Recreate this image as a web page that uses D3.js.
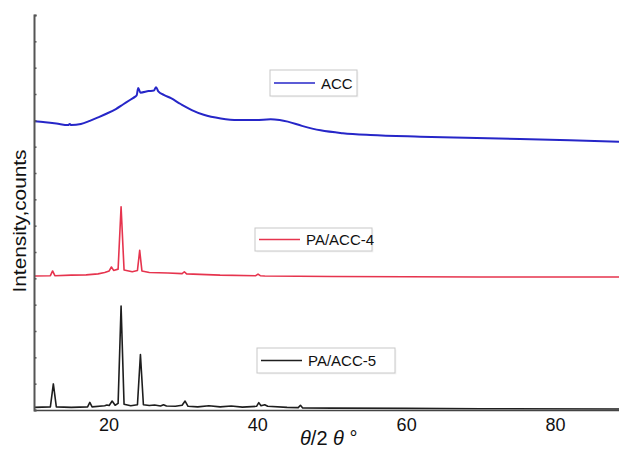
<!DOCTYPE html>
<html>
<head>
<meta charset="utf-8">
<script src="https://cdn.jsdelivr.net/npm/d3@7"></script>
<style>
  body { margin: 0; background: #fff; }
  svg { display: block; font-family: "Liberation Sans", Arial, sans-serif; }
</style>
</head>
<body>
<svg id="chart" width="619" height="454"></svg>
<script>
// 2theta positions and intensities (arbitrary counts)
const acc_theta = [10, 11.5, 13, 14.6, 14.8, 15.0, 16.3, 17.5, 18.6, 19.8, 21, 22, 23, 23.6, 23.8, 24.0, 24.3, 25.4, 26.1, 26.4, 26.7, 27.5, 28.4, 29.7, 31.2, 32.8, 35.1, 37.4, 39.8, 41.8, 43, 44.1, 46, 48.5, 51.5, 55.2, 61.9, 68, 75.3, 82, 88.6];
const acc_counts = [1097, 1093, 1088, 1082, 1086, 1082, 1086, 1098, 1111, 1126, 1143, 1161, 1179, 1190, 1195, 1223, 1205, 1211, 1213, 1226, 1210, 1196, 1184, 1162, 1139, 1121, 1107, 1101, 1101, 1104, 1101, 1095, 1079, 1062, 1051, 1044, 1038, 1034, 1029, 1024, 1019];

const pa4_theta = [10, 12.2, 12.5, 12.8, 15, 17, 18.6, 19.5, 20.1, 20.4, 20.7, 21.3, 21.7, 22.1, 23.2, 23.9, 24.2, 24.5, 25.5, 28, 29.9, 30.2, 30.5, 35, 39.8, 40.1, 40.4, 41, 50, 60, 70, 88.6];
const pa4_counts = [509, 510, 528, 510, 512, 513, 517, 522, 528, 543, 530, 535, 772, 532, 525, 530, 606, 528, 522, 520, 518, 525, 517, 512, 510, 516, 510, 509, 507, 506, 505, 505];

const pa5_theta = [10, 12.2, 12.6, 13.0, 15, 17.2, 17.5, 17.8, 19.5, 19.8, 20.1, 20.5, 20.9, 21.3, 21.7, 22.1, 23.0, 23.9, 24.3, 24.7, 25.5, 26.2, 27.0, 27.4, 27.8, 29.0, 29.9, 30.3, 30.7, 32, 33.5, 35, 36.5, 38, 39.9, 40.2, 40.5, 41.0, 41.4, 44, 45.5, 45.8, 46.1, 50, 60, 70, 88.6];
const pa5_counts = [10, 12, 99, 12, 10, 12, 29, 12, 16, 19, 17, 34, 18, 25, 395, 22, 16, 20, 211, 20, 17, 19, 15, 20, 15, 14, 18, 34, 14, 12, 16, 12, 15, 11, 14, 28, 16, 20, 14, 10, 9, 18, 8, 7, 6, 5, 4];

const x_ticks = [20, 40, 60, 80];
const y_ticks = d3.range(0, 1501, 100);

const series = [
    {name: 'ACC', theta: acc_theta, counts: acc_counts, color: '#2626c8', width: 2, smooth: true},
    {name: 'PA/ACC-4', theta: pa4_theta, counts: pa4_counts, color: '#e6344e', width: 1.6, smooth: false},
    {name: 'PA/ACC-5', theta: pa5_theta, counts: pa5_counts, color: '#1e1e1e', width: 1.6, smooth: false}
];

// legend boxes: left, top, width, height
const legend_boxes = [
    [270, 70, 87, 26],
    [255, 228, 117, 23],
    [257, 348, 138, 25]
];

const margin = {top: 15, right: 0, bottom: 44, left: 34};
const width = 619, height = 454;

let svg = d3.select('#chart');

let x = d3.scaleLinear().domain([10, 88.6]).range([margin.left, width - margin.right]);
let y = d3.scaleLinear().domain([0, 1500]).range([height - margin.bottom, margin.top]);

// curves
series.forEach(s => {
    let line = d3.line()
        .x(d => x(d[0]))
        .y(d => y(d[1]))
        .curve(s.smooth ? d3.curveMonotoneX : d3.curveLinear);
    svg.append('path')
        .datum(d3.zip(s.theta, s.counts))
        .attr('fill', 'none')
        .attr('stroke', s.color)
        .attr('stroke-width', s.width)
        .attr('stroke-linejoin', 'round')
        .attr('d', line);
});

// x axis
let x_axis = svg.append('g')
    .attr('transform', 'translate(0,' + (height - margin.bottom) + ')')
    .call(d3.axisBottom(x).tickValues(x_ticks).tickSize(0).tickPadding(8));
x_axis.select('.domain').attr('stroke', '#444').attr('stroke-width', 1.6);
x_axis.selectAll('text').attr('font-size', 18).attr('fill', '#111').attr('font-family', 'Liberation Sans, Arial, sans-serif');

// y axis, no labels, small inward ticks
let y_axis = svg.append('g')
    .attr('transform', 'translate(' + margin.left + ',0)')
    .call(d3.axisRight(y).tickValues(y_ticks).tickSize(2.5).tickFormat(''));
y_axis.select('.domain').attr('stroke', '#555').attr('stroke-width', 2);
y_axis.selectAll('.tick line').attr('stroke', '#555').attr('stroke-width', 1.5);

// axis titles
svg.append('text')
    .attr('transform', 'translate(26,' + 221 + ') rotate(-90)')
    .attr('text-anchor', 'middle')
    .attr('font-size', 18)
    .attr('textLength', 143)
    .attr('lengthAdjust', 'spacingAndGlyphs')
    .attr('fill', '#111')
    .text('Intensity,counts');

let x_title = svg.append('text')
    .attr('x', 300)
    .attr('y', 445)
    .attr('font-size', 20)
    .attr('fill', '#111');
x_title.append('tspan').attr('font-style', 'italic').text('θ');
x_title.append('tspan').text('/2 ');
x_title.append('tspan').attr('font-style', 'italic').text('θ');
x_title.append('tspan').text(' °');

// legends
series.forEach((s, i) => {
    let [bx, by, bw, bh] = legend_boxes[i];
    let g = svg.append('g');
    g.append('rect')
        .attr('x', bx + 1.5).attr('y', by + 1.5).attr('width', bw).attr('height', bh)
        .attr('fill', '#eee').attr('opacity', 0.6);
    g.append('rect')
        .attr('x', bx).attr('y', by).attr('width', bw).attr('height', bh)
        .attr('fill', '#fff').attr('stroke', '#c8c8c8').attr('stroke-width', 1);
    g.append('line')
        .attr('x1', bx + 4).attr('x2', bx + 45)
        .attr('y1', by + bh / 2).attr('y2', by + bh / 2)
        .attr('stroke', s.color).attr('stroke-width', 1.6);
    g.append('text')
        .attr('x', bx + 51).attr('y', by + bh / 2 + 5.5)
        .attr('font-size', 15).attr('fill', '#111')
        .text(s.name);
});
</script>
</body>
</html>
